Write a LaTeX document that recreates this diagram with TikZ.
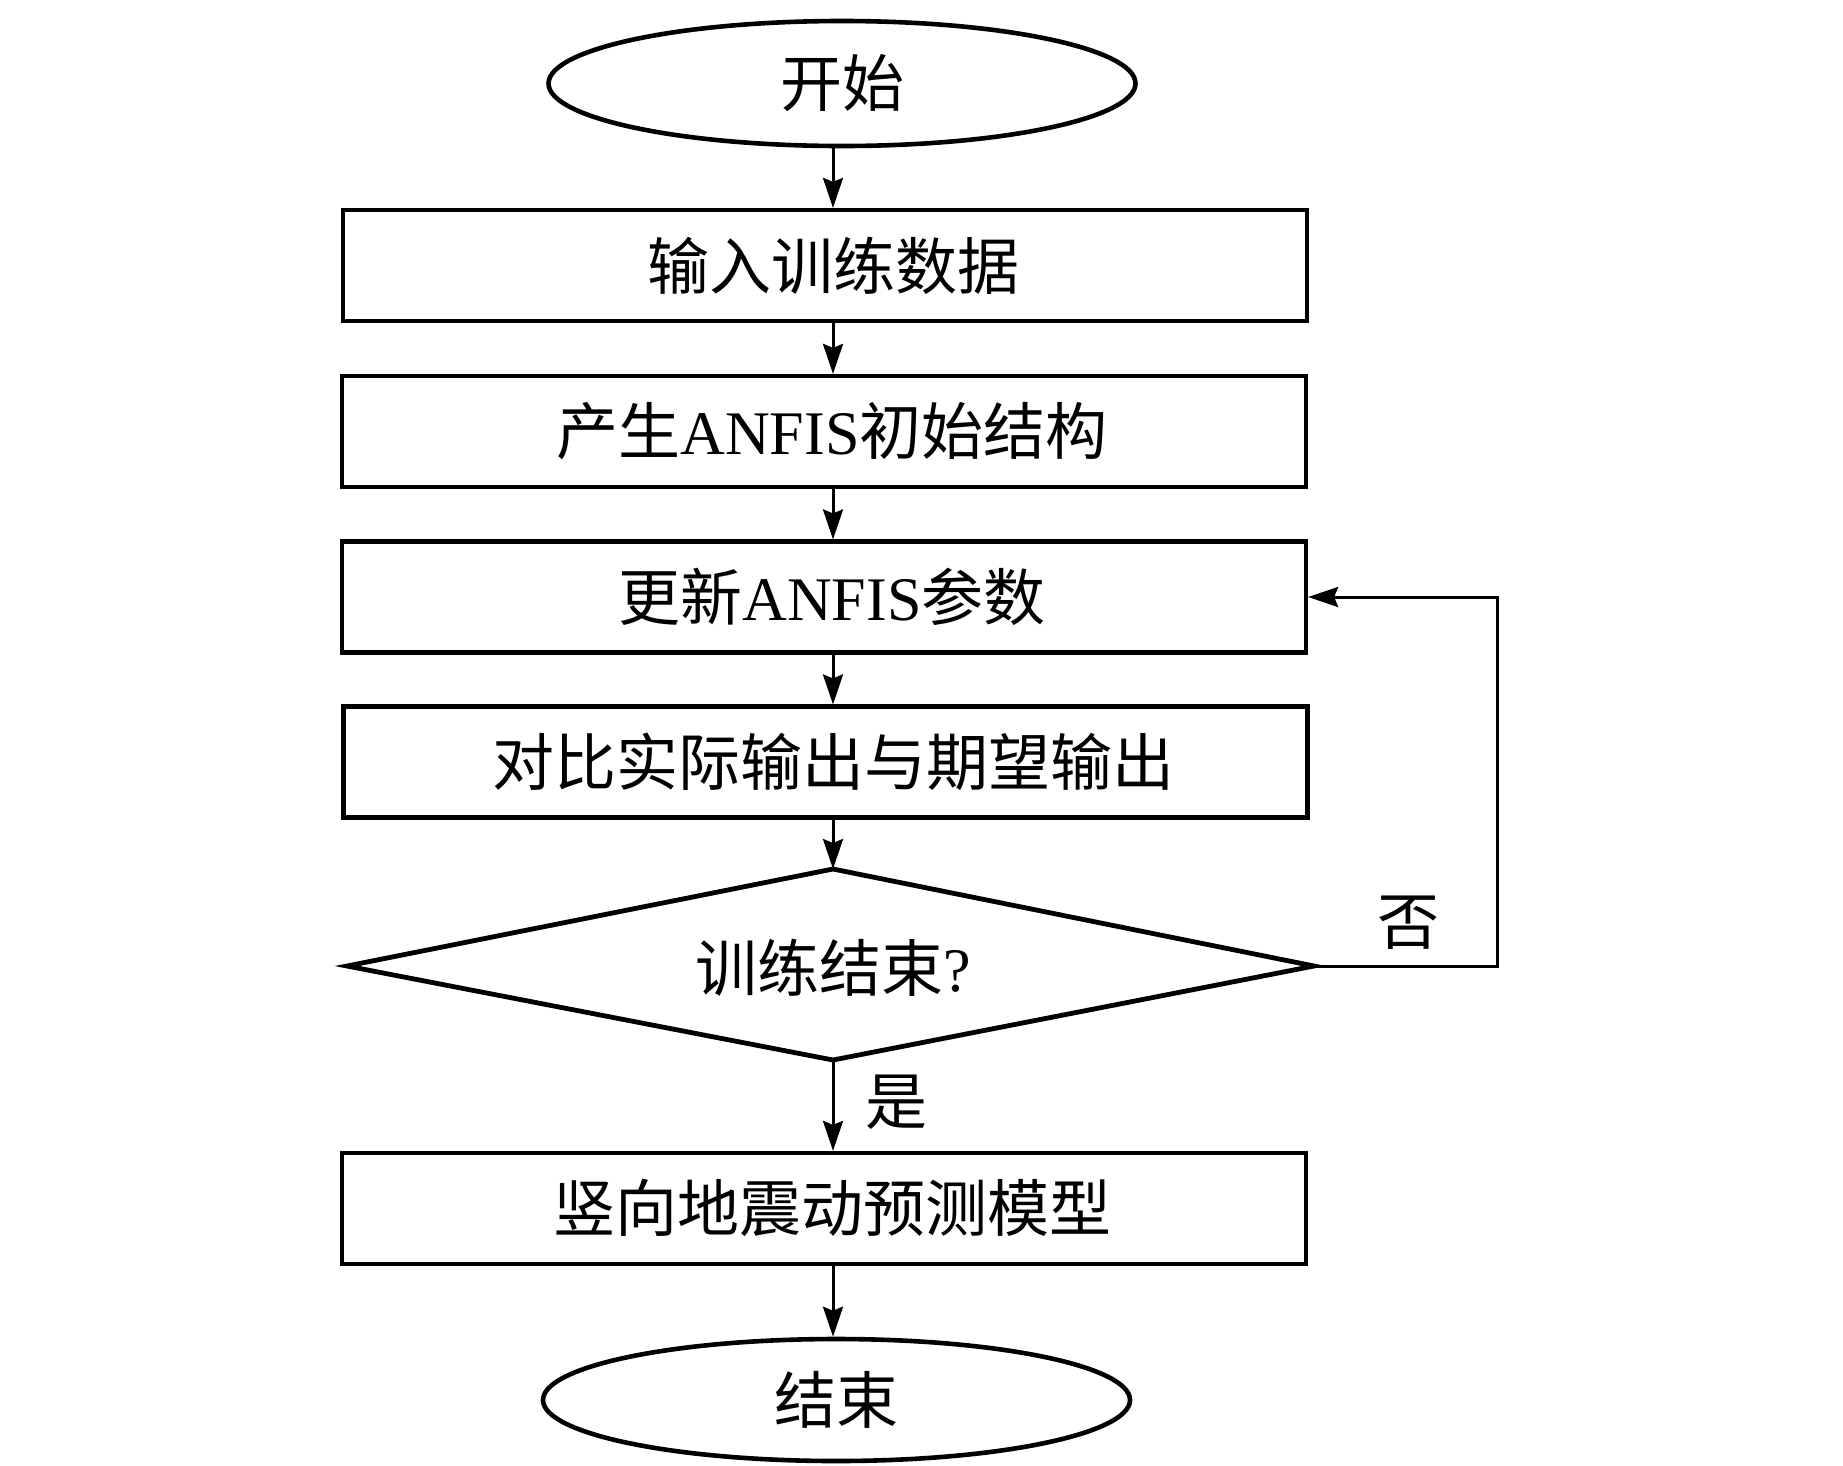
\documentclass[tikz,border=0pt]{standalone}
\usepackage{fontspec}
\setmainfont{Liberation Serif}
\newfontfamily\cjk{Noto Sans CJK SC}
\usetikzlibrary{shapes.geometric,arrows.meta}
\begin{document}
\begin{tikzpicture}[x=1pt,y=-1pt,
  every node/.style={font=\fontsize{62}{64}\selectfont},
  term/.style={draw,ellipse,line width=4.6pt,minimum width=587pt,inner sep=0pt},
  proc/.style={draw,rectangle,line width=4.2pt,minimum width=964pt,minimum height=111pt,inner sep=0pt},
  decline/.style={line width=4.8pt,line join=miter},
  arr/.style={line width=3pt,-{Stealth[length=30pt,width=20pt,inset=4pt]}},
  lbl/.style={inner sep=0pt}]
\useasboundingbox (0,0) rectangle (1843,1465);
\coordinate (ax) at (833,0);
\coordinate (lp) at (1497,0);
\node[term,minimum height=125pt] (start) at (842,83.5) {\cjk 开始};
\node[proc] (b1) at (825,265.5) {\hspace*{16pt}\cjk 输入训练数据};
\node[proc] (b2) at (824,431.5) {\hspace*{16pt}{\cjk 产生}ANFIS{\cjk 初始结构}};
\node[proc] (b3) at (824,597) {\hspace*{16pt}{\cjk 更新}ANFIS{\cjk 参数}};
\node[proc] (b4) at (825.5,762) {\hspace*{16pt}\cjk 对比实际输出与期望输出};
% decision diamond
\coordinate (dn) at (833,869);
\coordinate (ds) at (833,1060);
\coordinate (dw) at (347,966);
\coordinate (de) at (1314,966);
\draw[decline] (dn) -- (de) -- (ds) -- (dw) -- cycle;
\node[lbl] (d) at (833,968) {{\cjk 训练结束}?};
\node[proc] (b5) at (824,1208.5) {\hspace*{16pt}\cjk 竖向地震动预测模型};
\node[term,minimum height=122pt] (stop) at (836.5,1400) {\cjk 结束};
\draw[arr] (start.south -| ax) -- (b1.north -| ax);
\draw[arr] (b1.south -| ax) -- (b2.north -| ax);
\draw[arr] (b2.south -| ax) -- (b3.north -| ax);
\draw[arr] (b3.south -| ax) -- (b4.north -| ax);
\draw[arr] (b4.south -| ax) -- (dn);
\draw[arr] (ds) -- (b5.north -| ax);
\draw[arr] (b5.south -| ax) -- (stop.north -| ax);
\draw[arr] (de) -- (de -| lp) |- (b3.east);
\node[lbl] (no) at (1408,923) {\cjk 否};
\node[lbl] (yes) at (896,1102) {\cjk 是};
\end{tikzpicture}
\end{document}
